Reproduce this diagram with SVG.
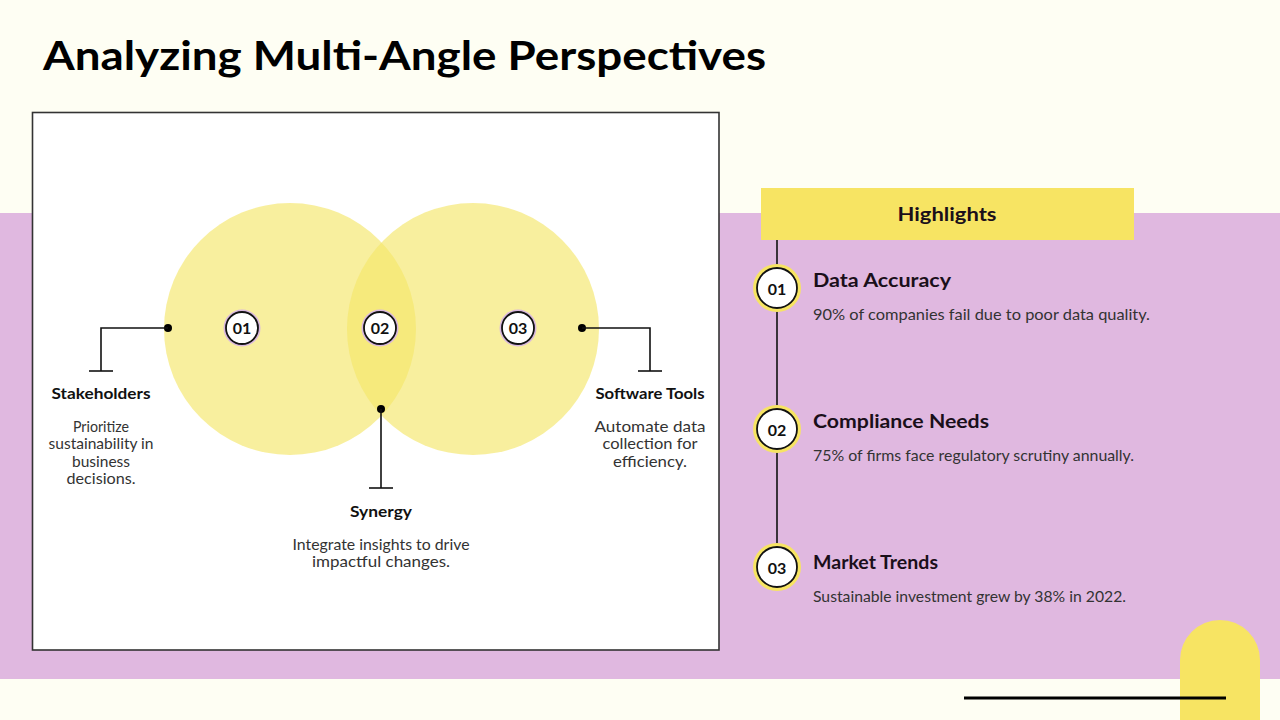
<svg xmlns="http://www.w3.org/2000/svg" width="1280" height="720" viewBox="0 0 1280 720">
<defs>
<style>
.title{font-family:"Lato","Liberation Sans",sans-serif;font-weight:700;font-size:41px;fill:#000}
.h{font-family:"Lato","Liberation Sans",sans-serif;font-weight:700;font-size:15.5px;fill:#111;text-anchor:middle}
.d{font-family:"Lato","Liberation Sans",sans-serif;font-size:15px;fill:#333;text-anchor:middle}
.rh{font-family:"Lato","Liberation Sans",sans-serif;font-weight:700;font-size:19px;fill:#1a0f1a}
.rd{font-family:"Lato","Liberation Sans",sans-serif;font-size:15px;fill:#333}
.num{font-family:"Lato","Liberation Sans",sans-serif;font-weight:700;font-size:16px;fill:#111;text-anchor:middle}
.ln{stroke:#111;stroke-width:1.6;fill:none}
.badge{fill:#fff;stroke:#111;stroke-width:1.8}
</style>
</defs>
<rect x="0" y="0" width="1280" height="720" fill="#FEFEF3"/>
<rect x="0" y="213" width="1280" height="466" fill="#E0B8E0"/>
<path d="M1180 720 V660 A40 40 0 0 1 1260 660 V720 Z" fill="#F7E463"/>
<line x1="964" y1="698" x2="1226" y2="698" stroke="#000" stroke-width="3"/>
<text class="title" x="43" y="70" textLength="723" lengthAdjust="spacingAndGlyphs">Analyzing Multi-Angle Perspectives</text>

<rect x="32.5" y="112.5" width="686.5" height="537.5" fill="#fff" stroke="#333" stroke-width="1.6"/>

<g id="venn">
<circle cx="290" cy="329" r="126" fill="#F5E66A" fill-opacity="0.65"/>
<circle cx="473" cy="329" r="126" fill="#F5E66A" fill-opacity="0.65"/>
</g>

<g id="connectors">
<circle cx="168" cy="328" r="4" fill="#000"/>
<polyline class="ln" points="168,328 101,328 101,371"/>
<line class="ln" x1="89" y1="371" x2="113" y2="371"/>
<circle cx="582" cy="328" r="4" fill="#000"/>
<polyline class="ln" points="582,328 650,328 650,371"/>
<line class="ln" x1="638" y1="371" x2="662" y2="371"/>
<circle cx="381" cy="409" r="4" fill="#000"/>
<line class="ln" x1="381" y1="409" x2="381" y2="488"/>
<line class="ln" x1="369" y1="488" x2="393" y2="488"/>
<line class="ln" x1="777" y1="240" x2="777" y2="567"/>
</g>

<g id="n01">
<circle cx="242" cy="328" r="18.5" fill="#D9B8DE"/>
<circle class="badge" cx="242" cy="328" r="16"/>
<text class="num" x="242" y="334">01</text>
</g>
<g id="n02">
<circle cx="380" cy="328" r="18.5" fill="#D9B8DE"/>
<circle class="badge" cx="380" cy="328" r="16"/>
<text class="num" x="380" y="334">02</text>
</g>
<g id="n03">
<circle cx="518" cy="328" r="18.5" fill="#D9B8DE"/>
<circle class="badge" cx="518" cy="328" r="16"/>
<text class="num" x="518" y="334">03</text>
</g>

<g id="stakeholders">
<text class="h" x="101" y="399" textLength="99" lengthAdjust="spacingAndGlyphs">Stakeholders</text>
<text class="d" x="101" y="432" textLength="56" lengthAdjust="spacingAndGlyphs">Prioritize</text>
<text class="d" x="101" y="449" textLength="105" lengthAdjust="spacingAndGlyphs">sustainability in</text>
<text class="d" x="101" y="467" textLength="58" lengthAdjust="spacingAndGlyphs">business</text>
<text class="d" x="101" y="484" textLength="69" lengthAdjust="spacingAndGlyphs">decisions.</text>
</g>
<g id="software">
<text class="h" x="650" y="399" textLength="109" lengthAdjust="spacingAndGlyphs">Software Tools</text>
<text class="d" x="650" y="432" textLength="111" lengthAdjust="spacingAndGlyphs">Automate data</text>
<text class="d" x="650" y="449" textLength="95" lengthAdjust="spacingAndGlyphs">collection for</text>
<text class="d" x="650" y="467" textLength="74" lengthAdjust="spacingAndGlyphs">efficiency.</text>
</g>
<g id="synergy">
<text class="h" x="381" y="517" textLength="62" lengthAdjust="spacingAndGlyphs">Synergy</text>
<text class="d" x="381" y="550" textLength="177" lengthAdjust="spacingAndGlyphs">Integrate insights to drive</text>
<text class="d" x="381" y="567" textLength="138" lengthAdjust="spacingAndGlyphs">impactful changes.</text>
</g>

<g id="highlights">
<rect x="761" y="188" width="373" height="52" fill="#F7E463"/>
<text class="rh" x="947" y="221" text-anchor="middle" textLength="99" lengthAdjust="spacingAndGlyphs">Highlights</text>
</g>

<g id="h01">
<circle cx="777" cy="288" r="24" fill="#F7E463"/>
<circle class="badge" cx="777" cy="288" r="20"/>
<text class="num" x="777" y="294.5" font-size="18">01</text>
<text class="rh" x="813" y="287" textLength="138" lengthAdjust="spacingAndGlyphs">Data Accuracy</text>
<text class="rd" x="813" y="320" textLength="337" lengthAdjust="spacingAndGlyphs">90% of companies fail due to poor data quality.</text>
</g>
<g id="h02">
<circle cx="777" cy="429" r="24" fill="#F7E463"/>
<circle class="badge" cx="777" cy="429" r="20"/>
<text class="num" x="777" y="435.5" font-size="18">02</text>
<text class="rh" x="813" y="428" textLength="176" lengthAdjust="spacingAndGlyphs">Compliance Needs</text>
<text class="rd" x="813" y="461" textLength="321" lengthAdjust="spacingAndGlyphs">75% of firms face regulatory scrutiny annually.</text>
</g>
<g id="h03">
<circle cx="777" cy="567" r="24" fill="#F7E463"/>
<circle class="badge" cx="777" cy="567" r="20"/>
<text class="num" x="777" y="573.5" font-size="18">03</text>
<text class="rh" x="813" y="569" textLength="125" lengthAdjust="spacingAndGlyphs">Market Trends</text>
<text class="rd" x="813" y="602" textLength="313" lengthAdjust="spacingAndGlyphs">Sustainable investment grew by 38% in 2022.</text>
</g>
</svg>
